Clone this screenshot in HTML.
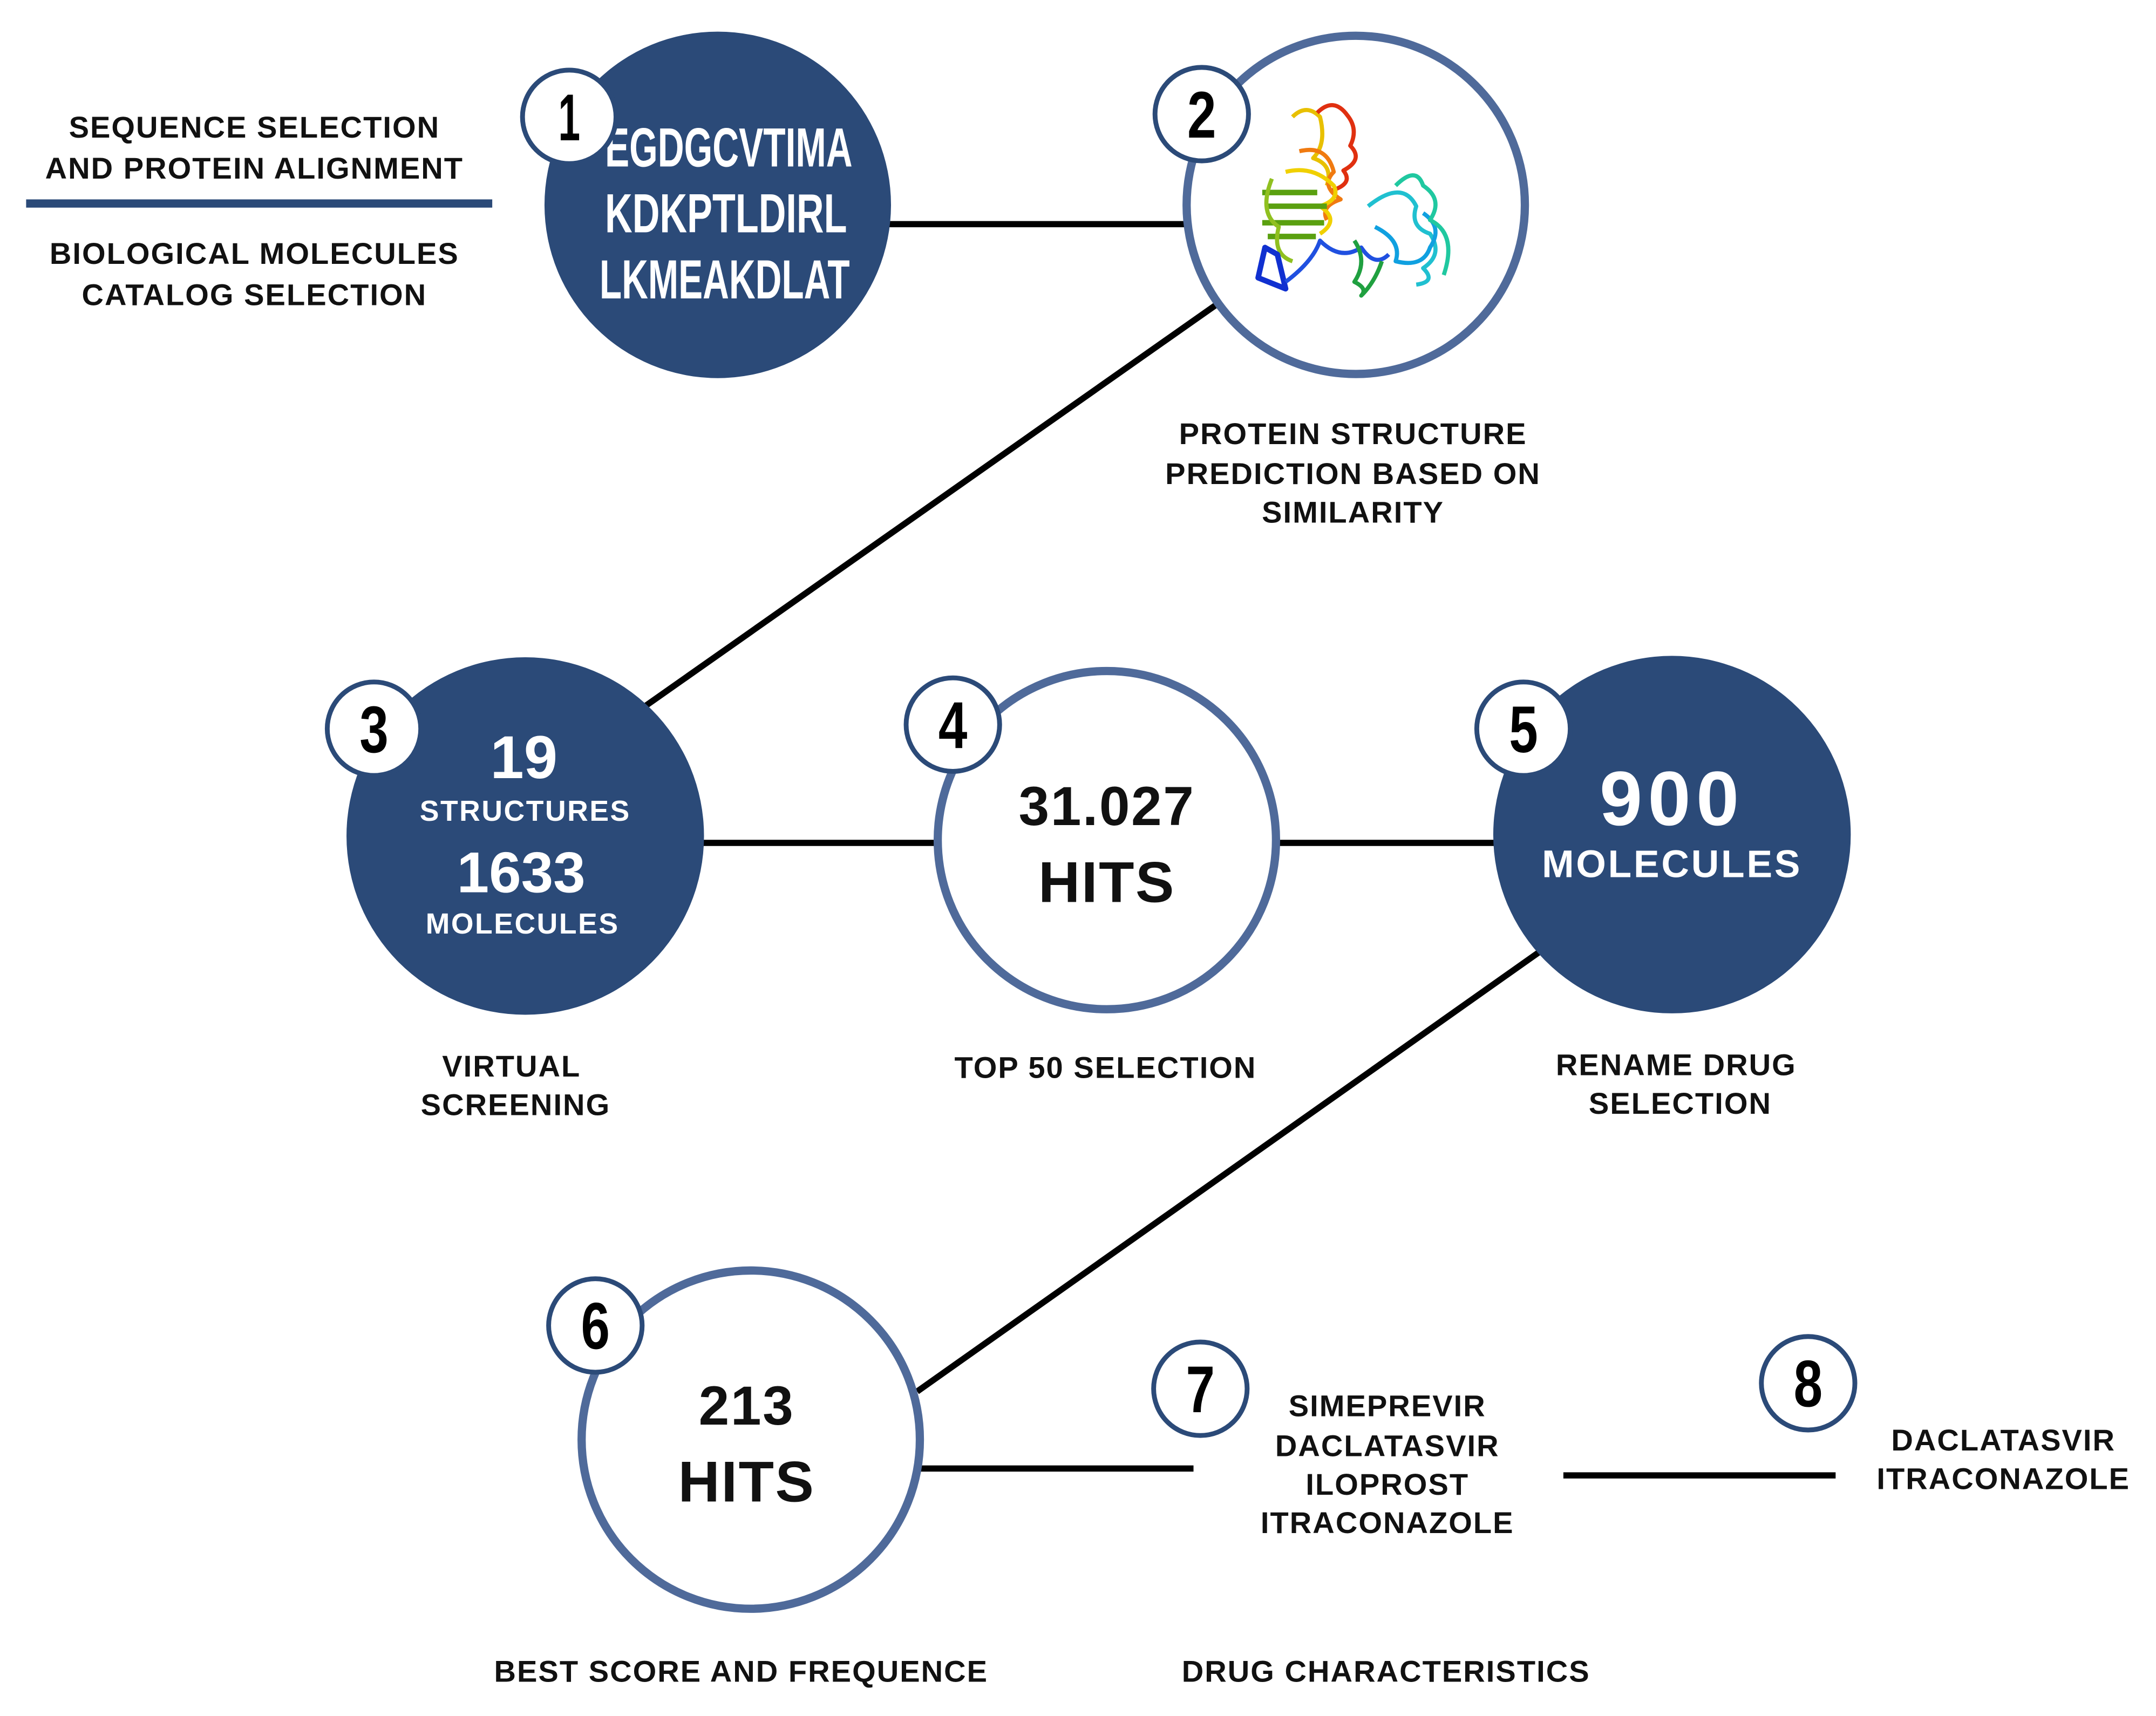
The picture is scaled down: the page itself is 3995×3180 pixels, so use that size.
<!DOCTYPE html>
<html><head><meta charset="utf-8"><style>
html,body{margin:0;padding:0;background:#fff}
svg{display:block}
.t{font-family:"Liberation Sans",sans-serif;font-weight:bold;fill:#111;text-anchor:middle;font-size:22px;letter-spacing:0.8px}
.w{font-family:"Liberation Sans",sans-serif;font-weight:bold;fill:#fff;text-anchor:middle}
.b{font-family:"Liberation Sans",sans-serif;font-weight:bold;fill:#111;text-anchor:middle}
.n{font-family:"Liberation Sans Narrow","Liberation Sans",sans-serif;font-weight:bold;fill:#000;text-anchor:middle;font-size:48px}
</style></head><body>
<svg width="3995" height="3180" viewBox="0 0 1568 1248" preserveAspectRatio="none" xmlns="http://www.w3.org/2000/svg">
<rect width="1568" height="1248" fill="#fff"/>
<g stroke="#000" stroke-width="4.5">
<line x1="640" y1="163" x2="870" y2="163"/>
<line x1="884" y1="222" x2="470" y2="513"/>
<line x1="505" y1="613" x2="685" y2="613"/>
<line x1="925" y1="613" x2="1095" y2="613"/>
<line x1="1120" y1="692" x2="667" y2="1012"/>
<line x1="668" y1="1068" x2="868" y2="1068"/>
<line x1="1137" y1="1073" x2="1335" y2="1073"/>
</g>
<rect x="19" y="145" width="339" height="6" fill="#2b4a78"/>
<text class="t" x="185" y="100">SEQUENCE SELECTION</text>
<text class="t" x="185" y="130">AND PROTEIN ALIGNMENT</text>
<text class="t" x="185" y="192">BIOLOGICAL MOLECULES</text>
<text class="t" x="185" y="222">CATALOG SELECTION</text>

<circle cx="522" cy="149" r="126" fill="#2b4a78"/>
<text class="w" x="530" y="121" font-size="40" textLength="180" lengthAdjust="spacingAndGlyphs">EGDGCVTIMA</text>
<text class="w" x="528" y="169" font-size="40" textLength="176" lengthAdjust="spacingAndGlyphs">KDKPTLDIRL</text>
<text class="w" x="527" y="217" font-size="40" textLength="182" lengthAdjust="spacingAndGlyphs">LKMEAKDLAT</text>

<circle cx="986" cy="149" r="123" fill="#fff" stroke="#4f6a9a" stroke-width="6"/>
<g fill="none" stroke-width="3" stroke-linejoin="round">
<path d="M940 85 q10 -10 20 0 q5 20 -5 30 q15 5 10 20" stroke="#e8c000"/>
<path d="M958 82 q12 -12 22 2 q8 10 2 22 q10 10 -5 18 q8 10 -10 15" stroke="#e03010"/>
<path d="M945 110 q20 -5 25 15 q-10 10 5 20 q-15 5 -10 15" stroke="#f07a10"/>
<path d="M935 125 q20 -5 35 10 q5 10 -10 15 q15 10 0 20" stroke="#f0d000"/>
<path d="M918 140 h40 M920 150 h45 M918 162 h45 M922 172 h35" stroke="#5aa010" stroke-width="4"/>
<path d="M925 130 q-10 25 5 35 q-5 20 10 25" stroke="#90c020"/>
<path d="M920 180 l-5 22 l20 8 l-6 -25 z" stroke="#1030d0" stroke-width="4"/>
<path d="M935 205 q20 -15 25 -30 q15 15 30 5 q10 15 20 5" stroke="#2050e0"/>
<path d="M995 150 q25 -20 35 0 q-5 15 10 20 q10 15 -5 25 q10 10 -5 12" stroke="#20c0d0"/>
<path d="M1000 165 q20 10 15 25 q20 5 25 -10 q10 -15 -5 -25" stroke="#10a0e0"/>
<path d="M1015 135 q15 -15 20 0 q15 10 5 25 q20 10 10 40" stroke="#20c8a0"/>
<path d="M985 175 q10 15 0 30 q10 5 5 10 q10 -10 15 -25" stroke="#20a040"/>
</g>

<text class="t" x="984" y="323">PROTEIN STRUCTURE</text>
<text class="t" x="984" y="352">PREDICTION BASED ON</text>
<text class="t" x="984" y="380">SIMILARITY</text>

<circle cx="382" cy="608" r="130" fill="#2b4a78"/>
<text class="w" x="381" y="566" font-size="44">19</text>
<text class="w" x="382" y="597" font-size="21" letter-spacing="1">STRUCTURES</text>
<text class="w" x="379" y="649" font-size="42">1633</text>
<text class="w" x="380" y="679" font-size="21" letter-spacing="1">MOLECULES</text>

<circle cx="805" cy="611" r="123" fill="#fff" stroke="#4f6a9a" stroke-width="6"/>
<text class="b" x="805" y="600" font-size="40" letter-spacing="1">31.027</text>
<text class="b" x="805" y="656" font-size="42" letter-spacing="1">HITS</text>

<circle cx="1216" cy="607" r="130" fill="#2b4a78"/>
<text class="w" x="1216" y="600" font-size="56" letter-spacing="4">900</text>
<text class="w" x="1216" y="638" font-size="28" letter-spacing="1.5">MOLECULES</text>

<text class="t" x="372" y="783">VIRTUAL</text>
<text class="t" x="375" y="811">SCREENING</text>
<text class="t" x="804" y="784">TOP 50 SELECTION</text>
<text class="t" x="1219" y="782">RENAME DRUG</text>
<text class="t" x="1222" y="810">SELECTION</text>

<circle cx="546" cy="1047" r="123" fill="#fff" stroke="#4f6a9a" stroke-width="6"/>
<text class="b" x="543" y="1036" font-size="40" letter-spacing="1">213</text>
<text class="b" x="543" y="1092" font-size="42" letter-spacing="1">HITS</text>

<text class="t" x="1009" y="1030">SIMEPREVIR</text>
<text class="t" x="1009" y="1059">DACLATASVIR</text>
<text class="t" x="1009" y="1087">ILOPROST</text>
<text class="t" x="1009" y="1115">ITRACONAZOLE</text>
<text class="t" x="1457" y="1055">DACLATASVIR</text>
<text class="t" x="1457" y="1083">ITRACONAZOLE</text>
<text class="t" x="539" y="1223">BEST SCORE AND FREQUENCE</text>
<text class="t" x="1008" y="1223">DRUG CHARACTERISTICS</text>

<g fill="#fff" stroke="#2b4a78" stroke-width="3.5">
<circle cx="414" cy="85" r="34"/>
<circle cx="874" cy="83" r="34"/>
<circle cx="272" cy="530" r="34"/>
<circle cx="693" cy="527" r="34"/>
<circle cx="1108" cy="530" r="34"/>
<circle cx="433" cy="964" r="34"/>
<circle cx="873" cy="1010" r="34"/>
<circle cx="1315" cy="1006" r="34"/>
</g>
<g>
<text class="n" x="414" y="102" textLength="16" lengthAdjust="spacingAndGlyphs">1</text>
<text class="n" x="874" y="100" textLength="21" lengthAdjust="spacingAndGlyphs">2</text>
<text class="n" x="272" y="547" textLength="21" lengthAdjust="spacingAndGlyphs">3</text>
<text class="n" x="693" y="544" textLength="21" lengthAdjust="spacingAndGlyphs">4</text>
<text class="n" x="1108" y="547" textLength="21" lengthAdjust="spacingAndGlyphs">5</text>
<text class="n" x="433" y="981" textLength="21" lengthAdjust="spacingAndGlyphs">6</text>
<text class="n" x="873" y="1027" textLength="21" lengthAdjust="spacingAndGlyphs">7</text>
<text class="n" x="1315" y="1023" textLength="21" lengthAdjust="spacingAndGlyphs">8</text>
</g>
</svg>
</body></html>
